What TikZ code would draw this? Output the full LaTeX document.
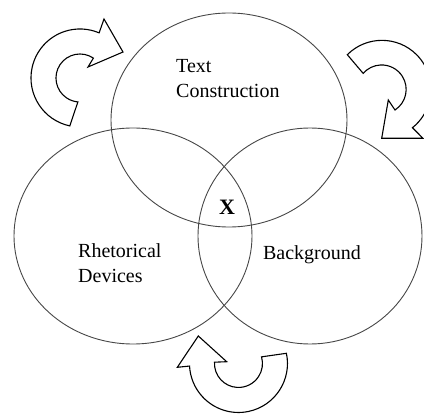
\documentclass[tikz,border=0pt]{standalone}
\usepackage{fontspec}
\setmainfont{Liberation Serif}
\begin{document}
\begin{tikzpicture}[x=1pt,y=1pt,
  ring/.style={draw=black!72, line width=0.9pt},
  blockarrow/.style={draw=black, line width=1.1pt, line join=miter, fill=white},
  lbl/.style={inner sep=0pt, font=\fontsize{20}{24}\selectfont}]
\useasboundingbox (0,0) rectangle (424,416);
% circles
\draw[ring] (229,296) ellipse [x radius=118, y radius=107];
\draw[ring] (133,180) ellipse [x radius=119, y radius=108];
\draw[ring] (310,180) ellipse [x radius=112, y radius=108];
% top-left arrow
\draw[blockarrow] (69.8,290.1) arc[start angle=258, end angle=67, radius=49pt]
  -- (104,397) -- (123,364) -- (88,349) -- (93.4,357.9)
  arc[start angle=56, end angle=265, radius=24pt] -- cycle;
% top-right arrow
\draw[blockarrow] (347.3,361.3) arc[start angle=135, end angle=-51.5, radius=49pt]
  -- (423,277.7) -- (381.7,277.7) -- (388.3,316) -- (395,306)
  arc[start angle=-57, end angle=139, radius=24.5pt] -- cycle;
% bottom arrow
\draw[blockarrow] (286.4,62.7) arc[start angle=12, end angle=-177, radius=49pt]
  -- (177.3,48.7) -- (198.3,80) -- (226.7,54.3) -- (214.5,53.8)
  arc[start angle=177, end angle=376, radius=24pt] -- cycle;
% labels
\node[lbl, anchor=base west] (t1) at (176,343) {Text};
\node[lbl, anchor=base west] (t2) at (176,318) {Construction};
\node[lbl, anchor=base west] (r1) at (78,158) {Rhetorical};
\node[lbl, anchor=base west] (r2) at (78,133) {Devices};
\node[lbl, anchor=base] (b1) at (312,157) {Background};
\node[inner sep=0pt, font=\fontsize{22}{26}\selectfont\bfseries] (x) at (227,209) {X};
\end{tikzpicture}
\end{document}
